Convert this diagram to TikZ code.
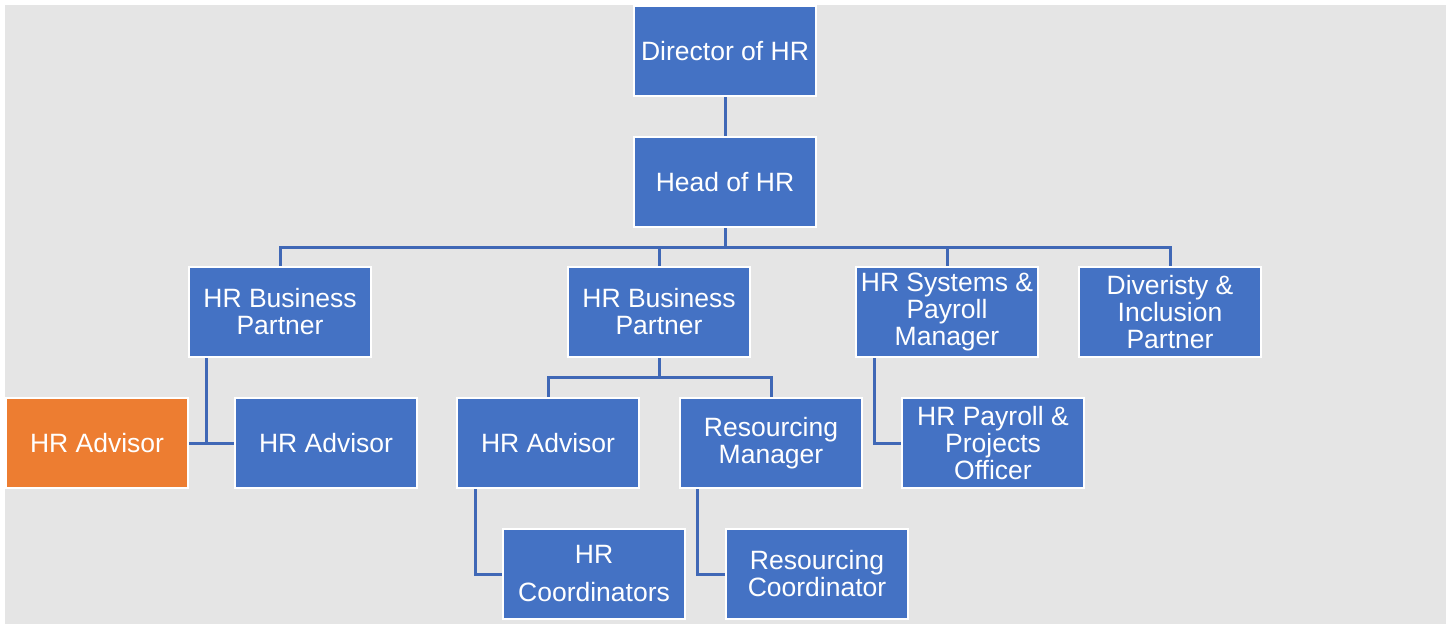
\documentclass[tikz,border=0pt]{standalone}
\usepackage{fontspec}
\setmainfont{Liberation Sans}
\definecolor{hrblue}{RGB}{68,114,196}
\definecolor{hrorange}{RGB}{237,125,49}
\definecolor{hrline}{RGB}{64,104,182}
\definecolor{hrback}{RGB}{229,229,229}
\tikzset{
    post/.style={rectangle, fill=hrblue, draw=white, line width=2pt,
        minimum width=182pt, minimum height=90pt, inner sep=0pt,
        text=white, align=center, font=\fontsize{26.5}{27}\selectfont},
    conn/.style={draw=hrline, line width=3pt}
}
\begin{document}
\begin{tikzpicture}[x=1pt, y=-1pt]
                        \useasboundingbox (0,0) rectangle (1453,624);
                        \fill[hrback] (5,5) rectangle (1446,624);

                        \node [post] (dir) at (725,51) {Director of HR};
                        \node [post] (head) at (725,182) {Head of HR};

                        \node [post] (bp1) at (280,312) {HR Business\\Partner};
                        \node [post] (bp2) at (659,312) {HR Business\\Partner};
                        \node [post] (sys) at (947,312) {HR Systems \&\\Payroll\\Manager};
                        \node [post] (div) at (1170,312) {Diveristy \&\\Inclusion\\Partner};

                        \node [post, fill=hrorange] (adv0) at (97,443) {HR Advisor};
                        \node [post] (adv1) at (326,443) {HR Advisor};
                        \node [post] (adv2) at (548,443) {HR Advisor};
                        \node [post] (resm) at (771,443) {Resourcing\\Manager};
                        \node [post] (payo) at (993,443) {HR Payroll \&\\Projects\\Officer};

                        \node [post] (coord) at (594,574) {HR\\[11pt]Coordinators};
                        \node [post] (resc) at (817,574) {Resourcing\\Coordinator};

                        \draw [conn] (dir.south) -- (head.south |- head.north);
                        \foreach \c in {bp1,bp2,sys,div}
                            \draw [conn] (head.south) -- ++(0,19) -| (\c.north);
                        \foreach \c in {adv2,resm}
                            \draw [conn] (bp2.south) -- ++(0,19) -| (\c.north);

                        \draw [conn] ([xshift=-74pt]bp1.south) |- (adv1.west);
                        \draw [conn] (adv0.east) -- (adv1.west);
                        \draw [conn] ([xshift=-73pt]sys.south) |- (payo.west);
                        \draw [conn] ([xshift=-73pt]adv2.south) |- (coord.west);
                        \draw [conn] ([xshift=-74pt]resm.south) |- (resc.west);
                    \end{tikzpicture}
\end{document}
